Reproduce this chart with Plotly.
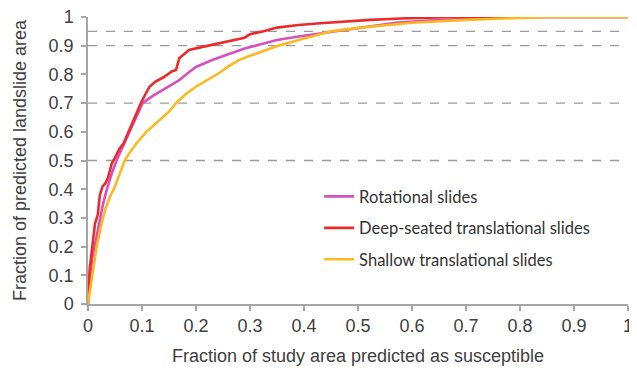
import plotly.graph_objects as go

# Rotational slides (magenta)
rot_x = [0, 0.004, 0.008, 0.012, 0.017, 0.022, 0.028, 0.035, 0.045, 0.055, 0.065, 0.075, 0.085, 0.095, 0.101,
         0.12, 0.138, 0.155, 0.169, 0.185, 0.2, 0.23, 0.26, 0.29, 0.32, 0.35, 0.39, 0.43, 0.47, 0.52, 0.57, 0.63, 0.7, 0.76, 0.82, 1.0]
rot_y = [0, 0.1, 0.16, 0.2, 0.25, 0.3, 0.35, 0.4, 0.46, 0.51, 0.55, 0.59, 0.63, 0.67, 0.70,
         0.725, 0.746, 0.765, 0.78, 0.805, 0.826, 0.85, 0.87, 0.89, 0.905, 0.92, 0.932, 0.943, 0.955, 0.968, 0.98, 0.988, 0.994, 0.997, 1.0, 1.0]

# Deep-seated translational slides (red)
deep_x = [0, 0.003, 0.008, 0.013, 0.018, 0.022, 0.027, 0.032, 0.037, 0.044, 0.05, 0.058, 0.066, 0.075, 0.083, 0.09, 0.098,
          0.106, 0.114, 0.125, 0.14, 0.155, 0.163, 0.169, 0.178, 0.187, 0.21, 0.233, 0.26, 0.29, 0.30, 0.325, 0.35, 0.39,
          0.43, 0.48, 0.523, 0.58, 0.664, 0.75, 1.0]
deep_y = [0, 0.12, 0.2, 0.28, 0.31, 0.38, 0.41, 0.42, 0.44, 0.49, 0.51, 0.54, 0.56, 0.6, 0.63, 0.66, 0.70,
          0.73, 0.757, 0.775, 0.79, 0.81, 0.815, 0.856, 0.87, 0.885, 0.895, 0.905, 0.915, 0.928, 0.94, 0.95, 0.963, 0.972,
          0.978, 0.985, 0.99, 0.995, 0.999, 1.0, 1.0]

# Shallow translational slides (yellow)
sh_x = [0, 0.004, 0.009, 0.016, 0.024, 0.032, 0.04, 0.05, 0.058, 0.068, 0.078, 0.09, 0.108, 0.132, 0.15, 0.163, 0.18, 0.2,
        0.22, 0.242, 0.26, 0.279, 0.3, 0.321, 0.352, 0.39, 0.42, 0.45, 0.5, 0.54, 0.6, 0.7, 0.78, 0.85, 1.0]
sh_y = [0, 0.05, 0.1, 0.2, 0.27, 0.33, 0.37, 0.41, 0.45, 0.5, 0.53, 0.56, 0.6, 0.641, 0.67, 0.70, 0.73, 0.757,
        0.78, 0.804, 0.828, 0.85, 0.865, 0.879, 0.9, 0.92, 0.935, 0.95, 0.962, 0.97, 0.98, 0.99, 0.996, 1.0, 1.0]

names = ["Rotational slides", "Deep-seated translational slides", "Shallow translational slides"]
colors = ["#D84FBE", "#EC2A2A", "#FFB71E"]
ref_lines = [0.5, 0.7, 0.9, 0.95]
ticks = [0, 0.1, 0.2, 0.3, 0.4, 0.5, 0.6, 0.7, 0.8, 0.9, 1]
tick_text = ["0", "0.1", "0.2", "0.3", "0.4", "0.5", "0.6", "0.7", "0.8", "0.9", "1"]

fig = go.Figure()
for i, (xs, ys) in enumerate([(rot_x, rot_y), (deep_x, deep_y), (sh_x, sh_y)]):
    fig.add_trace(go.Scatter(x=xs, y=ys, mode="lines", name=names[i], legendgroup=str(i),
                             line=dict(color=colors[i], width=2.6)))

for v in ref_lines:
    fig.add_shape(type="line", xref="x", yref="y", x0=0, x1=1, y0=v, y1=v,
                  line=dict(color="#9A9A9A", width=1.3, dash="dash"), layer="below")

axis_common = dict(range=[0, 1], showgrid=False, zeroline=False, showline=True, automargin=False,
                   linecolor="#A6A6A6", linewidth=1.5, ticks="outside", ticklen=5,
                   tickcolor="#A6A6A6", tickwidth=1.5, tickvals=ticks, ticktext=tick_text,
                   ticklabeloverflow="allow",
                   tickfont=dict(family="Liberation Sans, Arial", size=18, color="#404040"))

# page body has an 8px margin, so the figure is sized to fit the remaining window
fig.update_layout(
    width=629, height=368,
    margin=dict(l=80, r=9, t=9, b=72),
    paper_bgcolor="white", plot_bgcolor="white",
    xaxis=dict(axis_common, title=dict(text="Fraction of study area predicted as susceptible",
                                       font=dict(family="Liberation Sans, Arial", size=18, color="#404040"), standoff=14)),
    yaxis=dict(axis_common, ticklabelstandoff=4,
               title=dict(text="Fraction of predicted landslide area",
                          font=dict(family="Liberation Sans, Arial", size=18, color="#404040"), standoff=17)),
    legend=dict(x=0.428, y=0.435, xanchor="left", yanchor="top", tracegroupgap=7,
                font=dict(family="Lato, Open Sans", size=16.5, color="#333333"), bgcolor="rgba(0,0,0,0)"),
    showlegend=True,
)
fig.write_html("out.html")
